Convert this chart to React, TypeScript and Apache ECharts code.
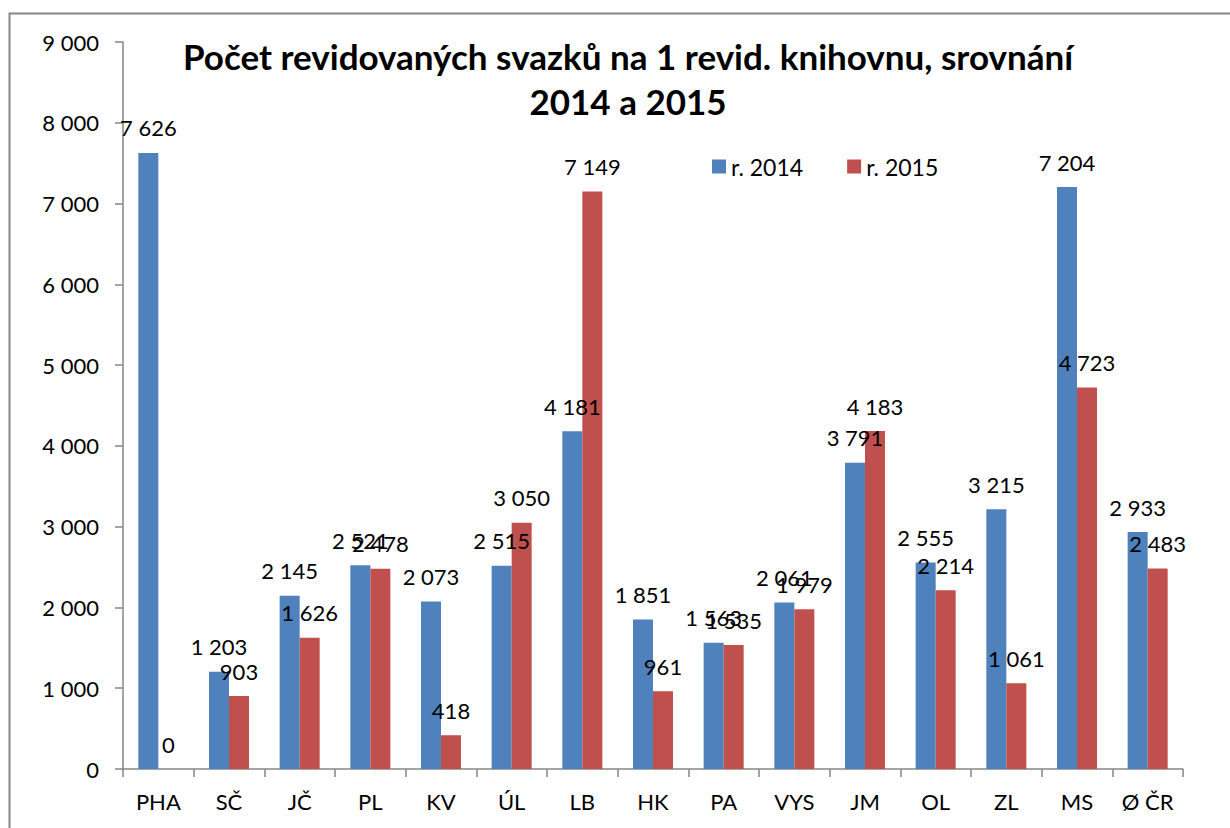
import React, { useEffect, useRef } from "react";
import * as echarts from "echarts";

const categories = ["PHA", "SČ", "JČ", "PL", "KV", "ÚL", "LB", "HK", "PA", "VYS", "JM", "OL", "ZL", "MS", "Ø ČR"];
const values2014 = [7626, 1203, 2145, 2521, 2073, 2515, 4181, 1851, 1563, 2061, 3791, 2555, 3215, 7204, 2933];
const values2015 = [0, 903, 1626, 2478, 418, 3050, 7149, 961, 1535, 1979, 4183, 2214, 1061, 4723, 2483];
const seriesNames = ["r. 2014", "r. 2015"];
const titleLines = ["Počet revidovaných svazků na 1 revid. knihovnu, srovnání", "2014 a 2015"];

const FONT = "Lato";
const fmt = (v: number) => String(Math.round(v)).replace(/\B(?=(\d{3})+(?!\d))/g, " ");

export default function App() {
  const ref = useRef<HTMLDivElement>(null);
  useEffect(() => {
    if (!ref.current) return;
    const chart = echarts.init(ref.current, null, { renderer: "svg" });
    const label = {
      show: true,
      position: "top" as const,
      distance: 14,
      fontFamily: FONT,
      fontSize: 22,
      color: "#000",
      formatter: (p: any) => fmt(p.value),
    };
    chart.setOption({
      animation: false,
      backgroundColor: "#fff",
      textStyle: { fontFamily: FONT },
      title: {
        text: titleLines.join("\n"),
        left: 623,
        textAlign: "center",
        top: 28,
        textStyle: { fontFamily: FONT, fontSize: 35, fontWeight: "bold", color: "#000", lineHeight: 45 },
      },
      legend: {
        left: 707,
        top: 150,
        icon: "rect",
        itemWidth: 14,
        itemHeight: 14,
        itemGap: 44,
        textStyle: { fontFamily: FONT, fontSize: 23, color: "#000", padding: [0, 0, 0, 0] },
        data: seriesNames,
      },
      graphic: [
        {
          type: "rect",
          shape: { x: 9.5, y: 13.5, width: 1300, height: 900 },
          style: { fill: "none", stroke: "#868686", lineWidth: 2 },
          silent: true,
        },
      ],
      grid: { left: 123, right: 47, top: 42, bottom: 59 },
      xAxis: {
        type: "category",
        data: categories,
        axisLine: { lineStyle: { color: "#868686", width: 1.5 } },
        axisTick: { show: true, length: 8, lineStyle: { color: "#868686", width: 1.5 } },
        axisLabel: { fontFamily: FONT, fontSize: 22, color: "#000", margin: 21, interval: 0 },
      },
      yAxis: {
        type: "value",
        min: 0,
        max: 9000,
        interval: 1000,
        axisLine: { show: true, lineStyle: { color: "#868686", width: 1.5 } },
        axisTick: { show: true, length: 8, lineStyle: { color: "#868686", width: 1.5 } },
        splitLine: { show: false },
        axisLabel: { fontFamily: FONT, fontSize: 22, color: "#000", margin: 24, formatter: (v: number) => fmt(v) },
      },
      series: [
        {
          name: seriesNames[0],
          type: "bar",
          data: values2014,
          barWidth: 20,
          barGap: "0%",
          itemStyle: { color: "#4F81BD" },
          label,
        },
        {
          name: seriesNames[1],
          type: "bar",
          data: values2015,
          barWidth: 20,
          itemStyle: { color: "#C0504D" },
          label,
        },
      ],
    });
    return () => chart.dispose();
  }, []);
  return <div ref={ref} style={{ position: "absolute", left: 0, top: 0, width: 1230, height: 828 }} />;
}
